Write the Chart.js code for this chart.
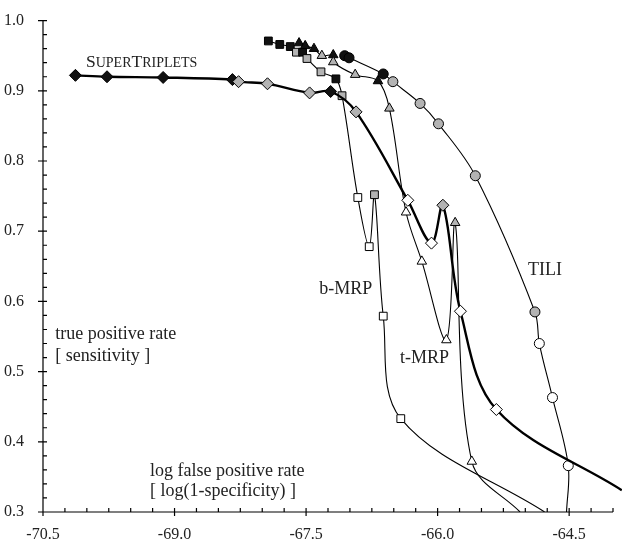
<!DOCTYPE html>
<html>
<head>
<meta charset="utf-8">
<script src="https://cdn.jsdelivr.net/npm/chart.js@4.4.1/dist/chart.umd.min.js"></script>
<style>
html, body { margin: 0; padding: 0; background: #fff; }
#wrap { width: 622px; height: 542px; }
</style>
</head>
<body>
<div id="wrap"><canvas id="roc"></canvas></div>
<script>
// x = log(1-specificity), y = sensitivity
// kind: 'k' black marker, 'g' grey marker, 'w' white marker, null = no marker
const superX = [-70.13, -69.77, -69.13, -68.34, -68.27, -67.94, -67.46, -67.22, -66.93, -66.34, -66.07, -65.94, -65.74, -65.33, -63.90];
const superY = [0.922, 0.920, 0.919, 0.916, 0.913, 0.910, 0.897, 0.899, 0.870, 0.744, 0.683, 0.737, 0.586, 0.446, 0.331];
const superKind = ['k', 'k', 'k', 'k', 'g', 'g', 'g', 'k', 'g', 'w', 'w', 'g', 'w', 'w', null];

const tiliX = [-67.06, -67.01, -66.62, -66.51, -66.20, -65.99, -65.57, -64.89, -64.84, -64.69, -64.51, -64.53];
const tiliY = [0.950, 0.947, 0.924, 0.913, 0.882, 0.853, 0.779, 0.585, 0.540, 0.463, 0.366, 0.300];
const tiliKind = ['k', 'k', 'k', 'g', 'g', 'g', 'g', 'g', 'w', 'w', 'w', null];

const tmrpX = [-67.58, -67.51, -67.41, -67.32, -67.19, -67.19, -66.94, -66.68, -66.55, -66.36, -66.18, -65.90, -65.80, -65.61, -65.06];
const tmrpY = [0.968, 0.964, 0.960, 0.950, 0.951, 0.941, 0.923, 0.914, 0.875, 0.727, 0.657, 0.545, 0.712, 0.372, 0.300];
const tmrpKind = ['k', 'k', 'k', 'g', 'k', 'g', 'g', 'k', 'g', 'w', 'w', 'w', 'g', 'w', null];

const bmrpX = [-67.93, -67.80, -67.68, -67.61, -67.54, -67.49, -67.33, -67.16, -67.09, -66.91, -66.78, -66.72, -66.62, -66.42, -64.78];
const bmrpY = [0.971, 0.966, 0.963, 0.955, 0.955, 0.946, 0.927, 0.917, 0.893, 0.748, 0.678, 0.752, 0.579, 0.433, 0.300];
const bmrpKind = ['k', 'k', 'k', 'g', 'k', 'g', 'g', 'k', 'g', 'w', 'w', 'g', 'w', 'w', null];

const xTicks = [-70.5, -69.0, -67.5, -66.0, -64.5];
const yTicks = [0.3, 0.4, 0.5, 0.6, 0.7, 0.8, 0.9, 1.0];

const fills = { k: '#111', g: '#b3b3b3', w: '#fff' };
const serif = '"Liberation Serif", "Times New Roman", serif';

function points(xs, ys) {
    return xs.map((x, i) => ({ x: x, y: ys[i] }));
}

function series(label, xs, ys, kinds, style, radius, width) {
    return {
        label: label,
        data: points(xs, ys),
        showLine: true,
        borderColor: '#000',
        borderWidth: width,
        tension: 0.35,
        pointStyle: style,
        pointRadius: kinds.map(k => k ? radius : 0),
        pointBackgroundColor: kinds.map(k => k ? fills[k] : '#fff'),
        pointBorderColor: '#000',
        pointBorderWidth: 1
    };
}

// Axes, small inner ticks and the text labels
const frame = {
    id: 'frame',
    afterDatasetsDraw(chart) {
        const { ctx, chartArea: a, scales: { x, y } } = chart;
        ctx.save();
        ctx.strokeStyle = '#000';
        ctx.lineWidth = 1.2;
        ctx.beginPath();
        ctx.moveTo(a.left, a.top);
        ctx.lineTo(a.left, a.bottom);
        ctx.lineTo(a.right, a.bottom);

        for (let i = 0; i <= 35; i++) {
            const v = 0.3 + i * 0.02;
            const py = y.getPixelForValue(v);
            ctx.moveTo(a.left - (i % 5 === 0 ? 5 : 0), py);
            ctx.lineTo(a.left + 4, py);
        }
        for (let i = 0; i <= 26; i++) {
            const v = -70.5 + i * 0.25;
            const px = x.getPixelForValue(v);
            ctx.moveTo(px, a.bottom + (i % 6 === 0 ? 4 : 0));
            ctx.lineTo(px, a.bottom - 4);
        }
        ctx.stroke();

        ctx.fillStyle = '#222';
        ctx.textBaseline = 'alphabetic';
        ctx.font = '18px ' + serif;
        const put = (t, vx, vy) => ctx.fillText(t, x.getPixelForValue(vx), y.getPixelForValue(vy));
        put('TILI', -64.97, 0.638);
        put('b-MRP', -67.35, 0.611);
        put('t-MRP', -66.43, 0.512);
        put('true positive rate', -70.36, 0.5465);
        put('[ sensitivity ]', -70.36, 0.515);
        put('log false positive rate', -69.28, 0.3517);
        put('[ log(1-specificity) ]', -69.28, 0.3221);

        // SuperTriplets in small caps
        let px = x.getPixelForValue(-70.01);
        const py = y.getPixelForValue(0.9338);
        for (const ch of 'SuperTriplets') {
            const big = ch === ch.toUpperCase();
            ctx.font = (big ? '17.5px ' : '14px ') + serif;
            const c = ch.toUpperCase();
            ctx.fillText(c, px, py);
            px += ctx.measureText(c).width;
        }
        ctx.restore();
    }
};

Chart.defaults.font.family = serif;
Chart.defaults.color = '#222';

new Chart(document.getElementById('roc'), {
    type: 'scatter',
    data: {
        datasets: [
            Object.assign(series('SuperTriplets', superX, superY, superKind, 'rectRot', 6, 2.4), { clip: { left: 0, top: 0, right: 10, bottom: 0 } }),
            series('TILI', tiliX, tiliY, tiliKind, 'circle', 5, 1.1),
            series('t-MRP', tmrpX, tmrpY, tmrpKind, 'triangle', 5.5, 1.1),
            series('b-MRP', bmrpX, bmrpY, bmrpKind, 'rect', 5.5, 1.1)
        ]
    },
    options: {
        responsive: true,
        maintainAspectRatio: false,
        animation: false,
        layout: { padding: { left: 0, right: 9, top: 16, bottom: 0 } },
        plugins: {
            legend: { display: false },
            tooltip: { enabled: false }
        },
        scales: {
            x: {
                type: 'linear',
                min: -70.5,
                max: -64.0,
                grid: { display: false },
                border: { display: false },
                afterFit: s => { s.height = 30; },
                afterBuildTicks: s => { s.ticks = xTicks.map(v => ({ value: v })); },
                ticks: {
                    padding: 5,
                    maxRotation: 0,
                    autoSkip: false,
                    font: { size: 16 },
                    callback: v => v.toFixed(1)
                }
            },
            y: {
                type: 'linear',
                min: 0.3,
                max: 1.0,
                grid: { display: false },
                border: { display: false },
                afterFit: s => { s.width = 43; },
                afterBuildTicks: s => { s.ticks = yTicks.map(v => ({ value: v })); },
                ticks: {
                    padding: 11,
                    autoSkip: false,
                    font: { size: 16 },
                    callback: v => v.toFixed(1)
                }
            }
        }
    },
    plugins: [frame]
});
</script>
</body>
</html>
